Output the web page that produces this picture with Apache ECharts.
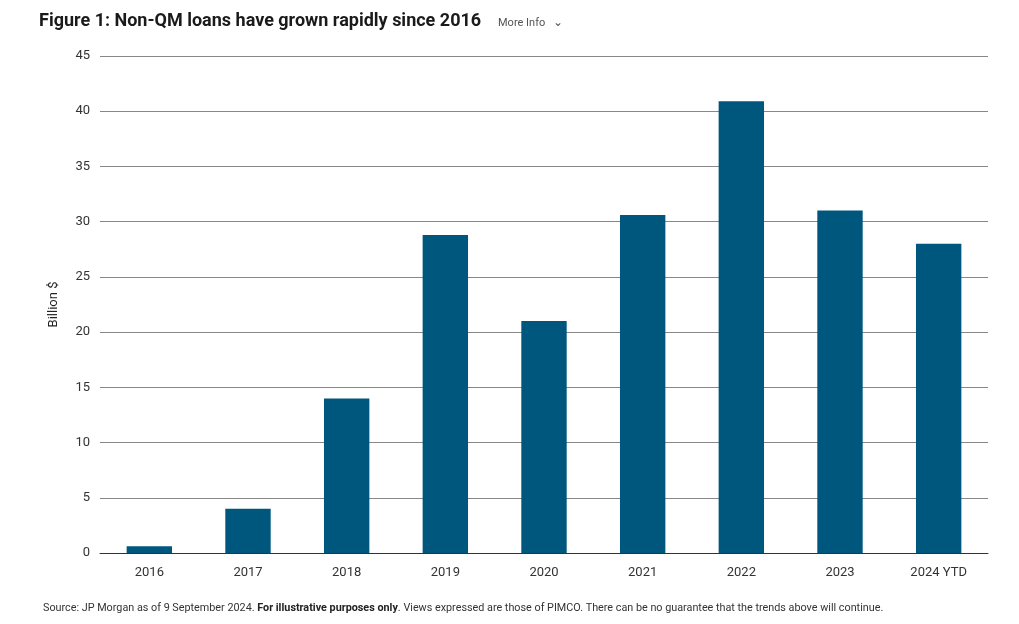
<!DOCTYPE html>
<html>
<head>
<meta charset="utf-8">
<script src="https://cdn.jsdelivr.net/npm/echarts@6/dist/echarts.min.js"></script>
<style>
  html, body { margin: 0; padding: 0; background: #fff; }
  #main { width: 1019px; height: 624px; }
</style>
</head>
<body>
<div id="main"></div>
<script>
var categories = ['2016', '2017', '2018', '2019', '2020', '2021', '2022', '2023', '2024 YTD'];
var loans = [0.6, 4.0, 14.0, 28.8, 21.0, 30.6, 40.9, 31.0, 28.0];
var yTicks = [0, 5, 10, 15, 20, 25, 30, 35, 40, 45];

var myChart = echarts.init(document.getElementById('main'));
var option = {
    animation: false,
    textStyle: { fontFamily: 'Roboto' },
    title: [
        {
            text: 'Figure 1: Non-QM loans have grown rapidly since 2016',
            left: 34, top: 7,
            textStyle: { fontSize: 18, fontWeight: 'bold', color: '#1a1a1a', fontFamily: 'Roboto' }
        },
        {
            text: '{u|More Info}   {a|\u2304}',
            left: 493, top: 12,
            textStyle: {
                fontSize: 11, color: '#555', fontWeight: 'normal',
                rich: {
                    u: { fontSize: 11, color: '#555', fontWeight: 'normal', textDecoration: 'underline' },
                    a: { fontSize: 12, color: '#555', fontWeight: 'normal' }
                }
            }
        },
        {
            text: 'Source: JP Morgan as of 9 September 2024. {b|For illustrative purposes only}. Views expressed are those of PIMCO. There can be no guarantee that the trends above will continue.',
            left: 38, top: 598,
            textStyle: {
                fontSize: 10.8, color: '#333', fontWeight: 'normal',
                rich: { b: { fontSize: 10.8, fontWeight: 'bold', color: '#222' } }
            }
        }
    ],
    grid: { left: 100, right: 31, top: 56, bottom: 71 },
    xAxis: {
        type: 'category',
        data: categories,
        axisLine: { lineStyle: { color: '#333' } },
        axisTick: { show: false },
        axisLabel: { color: '#333', fontSize: 13, margin: 13 }
    },
    yAxis: {
        type: 'value',
        min: yTicks[0], max: yTicks[yTicks.length - 1], interval: 5,
        name: 'Billion $',
        nameLocation: 'middle',
        nameGap: 40,
        nameTextStyle: { color: '#222', fontSize: 13 },
        axisLine: { show: false },
        axisTick: { show: false },
        axisLabel: { color: '#333', fontSize: 13, margin: 10 },
        splitLine: { lineStyle: { color: '#888', width: 1 } }
    },
    series: [{
        type: 'bar',
        data: loans,
        barWidth: '46%',
        itemStyle: { color: '#00577e' }
    }]
};
myChart.setOption(option);
</script>
</body>
</html>
